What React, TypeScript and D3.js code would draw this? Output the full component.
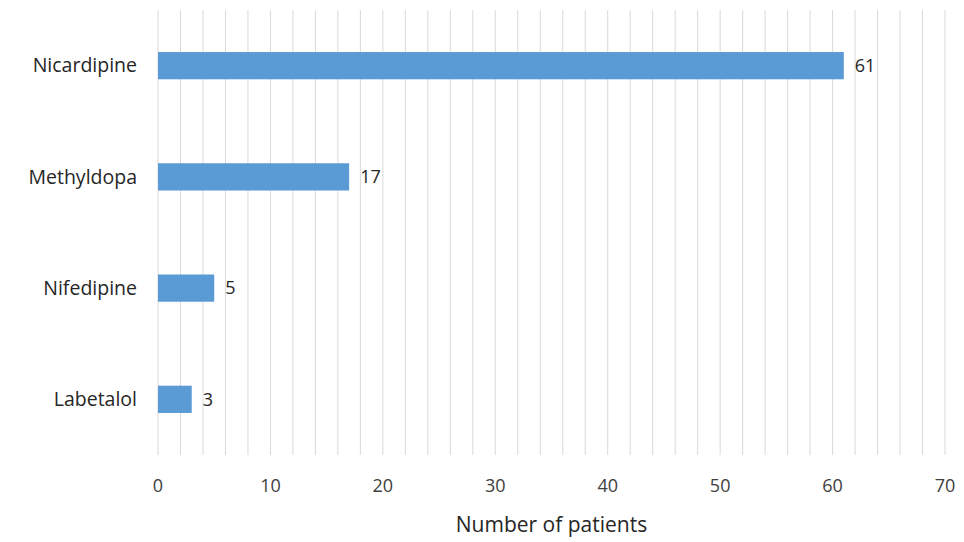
import * as d3 from "d3"

const drugs = ["Nicardipine", "Methyldopa", "Nifedipine", "Labetalol"]
const patients = [61, 17, 5, 3]
const tickValues = [0, 10, 20, 30, 40, 50, 60, 70]

export default function App() {
  const W = 964
  const H = 542
  const left = 158
  const right = 945
  const top = 10
  const bottom = 455

  const x = d3.scaleLinear().domain([0, 70]).range([left, right])
  const y = d3.scaleBand().domain(drugs).range([top, bottom]).paddingInner(0.755).paddingOuter(0.378)
  const grid = d3.range(0, 71, 2)
  const font = "'Open Sans', 'Noto Sans', sans-serif"

  return (
    <svg width={W} height={H} style={{ position: "absolute", left: 0, top: 0 }} fontFamily={font}>
      <rect width={W} height={H} fill="#fff" />
      {grid.map((g) => (
        <line key={g} x1={x(g)} x2={x(g)} y1={top} y2={bottom} stroke="#d9d9d9" strokeWidth={1} />
      ))}
      {drugs.map((d, i) => (
        <g key={d}>
          <rect x={x(0)} y={y(d)} width={x(patients[i]) - x(0)} height={y.bandwidth()} fill="#5b9bd5" />
          <text x={x(patients[i]) + 11} y={(y(d) as number) + y.bandwidth() / 2} dy="0.35em" fontSize={18} fill="#262626">
            {patients[i]}
          </text>
          <text x={left - 21} y={(y(d) as number) + y.bandwidth() / 2} dy="0.35em" fontSize={19.5} fill="#262626" textAnchor="end">
            {d}
          </text>
        </g>
      ))}
      {tickValues.map((t) => (
        <text key={t} x={x(t)} y={492} fontSize={18} fill="#404040" textAnchor="middle">
          {t}
        </text>
      ))}
      <text x={(left + right) / 2} y={532} fontSize={21} fill="#262626" textAnchor="middle">
        Number of patients
      </text>
    </svg>
  )
}
